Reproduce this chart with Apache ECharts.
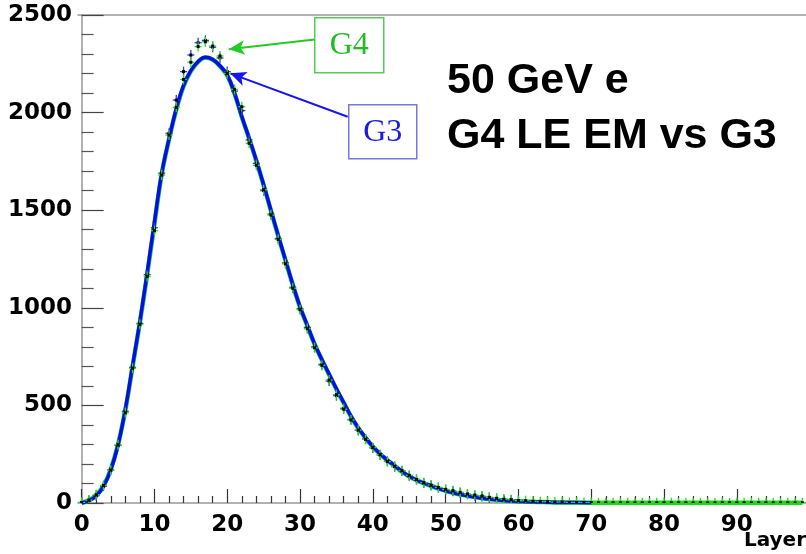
<!DOCTYPE html>
<html><head><meta charset="utf-8">
<script src="https://cdn.jsdelivr.net/npm/echarts@6/dist/echarts.min.js"></script>
<style>html,body{margin:0;padding:0;background:#fff}#c{width:806px;height:554px}</style>
</head><body><div id="c"></div><script>
// ---- data ----
const xMajorTicks = [0, 10, 20, 30, 40, 50, 60, 70, 80, 90];
const xMinorTicks = [2,4,6,8,12,14,16,18,22,24,26,28,32,34,36,38,42,44,46,48,52,54,56,58,62,64,66,68,72,74,76,78,82,84,86,88,92,94,96,98];
const yTickValues = [0, 500, 1000, 1500, 2000, 2500];

// G3 smooth curve, layers 0..70
const g3Curve = [
  0, 12, 36, 85, 169, 297, 480, 705, 930, 1180,
  1440, 1690, 1865, 2020, 2140, 2215, 2262, 2283, 2272, 2240,
  2193, 2100, 1980, 1870, 1755, 1630, 1500, 1370, 1245, 1120,
  1005, 910, 815, 735, 660, 585, 515, 445, 385, 335,
  290, 252, 220, 192, 162, 137, 118, 102, 88, 75,
  63, 53, 44, 37, 30, 25, 20, 16, 13, 10,
  8, 7, 6, 5, 4, 3, 3, 2, 2, 1,
  1
];
// G4 smooth curve, layers 0..99
const g4Curve = [
  0, 14, 40, 88, 172, 300, 475, 700, 925, 1170,
  1430, 1685, 1862, 2015, 2135, 2212, 2260, 2282, 2272, 2238,
  2190, 2098, 1978, 1868, 1752, 1628, 1498, 1368, 1243, 1118,
  1003, 908, 813, 733, 658, 583, 513, 443, 383, 333,
  288, 250, 218, 190, 160, 136, 117, 101, 87, 74,
  62, 52, 44, 37, 30, 25, 20, 16, 13, 10,
  8, 7, 6, 5, 4, 3, 3, 2, 2, 2,
  1, 1, 1, 1, 1, 1, 1, 1, 1, 1,
  1, 1, 1, 1, 1, 1, 1, 1, 1, 1,
  1, 1, 1, 1, 1, 1, 1, 1, 1, 1
];
// G4 points (black markers, green error bars), layers 0..99
const g4Points = [
  3, 15, 42, 90, 168, 298, 462, 690, 915, 1160,
  1395, 1680, 1885, 2027, 2170, 2258, 2338, 2363, 2341, 2290,
  2200, 2119, 2030, 1843, 1730, 1605, 1475, 1350, 1225, 1100,
  990, 893, 795, 705, 630, 555, 480, 425, 374, 326,
  285, 248, 212, 188, 166, 142, 121, 104, 92, 80,
  70, 63, 55, 46, 41, 36, 29, 24, 19, 17,
  12, 12, 9, 7, 7, 5, 5, 3, 3, 2,
  2, 1, 1, 1, 1, 1, 1, 1, 1, 1,
  1, 1, 1, 1, 1, 1, 1, 1, 1, 1,
  1, 1, 1, 1, 1, 1, 1, 1, 1, 1
];
// G3 points (blue error bars), layers 0..60
const g3Points = [
  2, 13, 38, 86, 170, 295, 470, 695, 920, 1170,
  1410, 1690, 1894, 2064, 2210, 2295, 2358, 2370, 2335, 2280,
  2210, 2110, 2010, 1860, 1740, 1600, 1480, 1355, 1230, 1105,
  995, 900, 800, 710, 625, 550, 485, 428, 372, 328,
  282, 246, 214, 186, 164, 140, 120, 103, 90, 79,
  68, 60, 52, 45, 38, 33, 28, 22, 18, 15,
  12
];
// annotation arrows (data coords: [layer, value])
const g4Arrow = [[32.0, 2375], [20.2, 2324]];
const g3Arrow = [[36.55, 1979], [20.4, 2201]];

const pairs = arr => arr.map((v, i) => [i, v]);

function crossRenderer(barColor) {
  return function (params, api) {
    const p = api.coord([api.value(0), api.value(1)]);
    return {
      type: 'group',
      children: [
        { type: 'line', shape: { x1: p[0], y1: p[1] - 5, x2: p[0], y2: p[1] + 5 }, style: { stroke: barColor, lineWidth: 1.3 } },
        { type: 'line', shape: { x1: p[0] - 3.5, y1: p[1], x2: p[0] + 3.5, y2: p[1] }, style: { stroke: barColor, lineWidth: 1.3 } },
        { type: 'rect', shape: { x: p[0] - 1.5, y: p[1] - 1.5, width: 3, height: 3 }, style: { fill: '#000' } }
      ]
    };
  };
}

const labelFont = { fontFamily: 'DejaVu Sans', fontWeight: 'bold', fontSize: 23, color: '#000' };
const plain = v => String(v);

const chart = echarts.init(document.getElementById('c'), null, { renderer: 'canvas' });
chart.setOption({
  animation: false,
  backgroundColor: '#fff',
  grid: { left: 78, right: 0, top: 15, bottom: 51, containLabel: false },
  xAxis: [
    {
      type: 'value', position: 'bottom', min: -0.5, max: 99.5,
      axisLine: { show: true, lineStyle: { color: '#999', width: 1.5 } },
      axisTick: { show: true, inside: true, length: 14, customValues: xMajorTicks, lineStyle: { color: '#333', width: 1.2 } },
      axisLabel: { show: true, customValues: xMajorTicks, margin: 11, formatter: plain, ...labelFont },
      splitLine: { show: false }
    },
    {
      type: 'value', position: 'bottom', min: -0.5, max: 99.5,
      axisLine: { show: false },
      axisTick: { show: true, inside: true, length: 7, customValues: xMinorTicks, lineStyle: { color: '#333', width: 1.2 } },
      axisLabel: { show: false },
      splitLine: { show: false }
    },
    {
      type: 'value', position: 'top', min: -0.5, max: 99.5,
      axisLine: { show: true, lineStyle: { color: '#999', width: 1.5 } },
      axisTick: { show: false }, axisLabel: { show: false }, splitLine: { show: false }
    }
  ],
  yAxis: {
    type: 'value', min: 0, max: 2500, interval: 500,
    axisLine: { show: true, lineStyle: { color: '#999', width: 1.5 } },
    axisTick: { show: true, inside: true, length: 22, lineStyle: { color: '#444', width: 1.2 } },
    minorTick: { show: true, splitNumber: 5, length: 12, lineStyle: { color: '#555', width: 1.2 } },
    axisLabel: { show: true, margin: 6, padding: [6, 0, 0, 0], customValues: yTickValues, formatter: plain, ...labelFont },
    splitLine: { show: false }, minorSplitLine: { show: false }
  },
  series: [
    {
      name: 'G4', type: 'line', xAxisIndex: 0, data: pairs(g4Curve), smooth: 0.4,
      showSymbol: false, symbol: 'none', z: 2,
      lineStyle: { color: '#11dd11', width: 4.5 },
      markLine: {
        silent: true, symbol: ['none', 'arrow'], symbolSize: [11, 16],
        lineStyle: { color: '#22cc22', width: 2, type: 'solid' }, label: { show: false },
        data: [[{ coord: g4Arrow[0] }, { coord: g4Arrow[1] }]]
      }
    },
    {
      name: 'G3', type: 'line', xAxisIndex: 0, data: pairs(g3Curve), smooth: 0.4,
      showSymbol: false, symbol: 'none', z: 3,
      lineStyle: { color: '#0a0af0', width: 3.5 },
      markLine: {
        silent: true, symbol: ['none', 'arrow'], symbolSize: [11, 16],
        lineStyle: { color: '#1515ee', width: 2, type: 'solid' }, label: { show: false },
        data: [[{ coord: g3Arrow[0] }, { coord: g3Arrow[1] }]]
      }
    },
    {
      name: 'G3 points', type: 'custom', xAxisIndex: 0, data: pairs(g3Points), clip: true, z: 4,
      renderItem: crossRenderer('#3333ee')
    },
    {
      name: 'G4 points', type: 'custom', xAxisIndex: 0, data: pairs(g4Points), clip: true, z: 5,
      renderItem: crossRenderer('#22dd22')
    }
  ],
  graphic: [
    { type: 'text', left: 447, top: 60, style: { text: '50 GeV e', font: 'bold 43px "Liberation Sans", Arial, sans-serif', fill: '#000' } },
    { type: 'text', left: 447, top: 115, style: { text: 'G4 LE EM vs G3', font: 'bold 43px "Liberation Sans", Arial, sans-serif', fill: '#000' } },
    { type: 'text', right: 0, top: 531, style: { text: 'Layer', font: 'bold 20px "DejaVu Sans", sans-serif', fill: '#000' } },
    {
      type: 'group', left: 314, top: 17, children: [
        { type: 'rect', shape: { x: 0, y: 0, width: 69, height: 55 }, style: { fill: '#fff', stroke: '#55cc55', lineWidth: 1.5 } },
        { type: 'text', x: 34.5, y: 28, style: { text: 'G4', font: '32px "Liberation Serif", "Times New Roman", serif', fill: '#22bb22', textAlign: 'center', textVerticalAlign: 'middle' } }
      ]
    },
    {
      type: 'group', left: 348, top: 104, children: [
        { type: 'rect', shape: { x: 0, y: 0, width: 68, height: 54 }, style: { fill: '#fff', stroke: '#7777dd', lineWidth: 1.5 } },
        { type: 'text', x: 34, y: 28, style: { text: 'G3', font: '32px "Liberation Serif", "Times New Roman", serif', fill: '#1a1ae0', textAlign: 'center', textVerticalAlign: 'middle' } }
      ]
    }
  ]
});
</script></body></html>
